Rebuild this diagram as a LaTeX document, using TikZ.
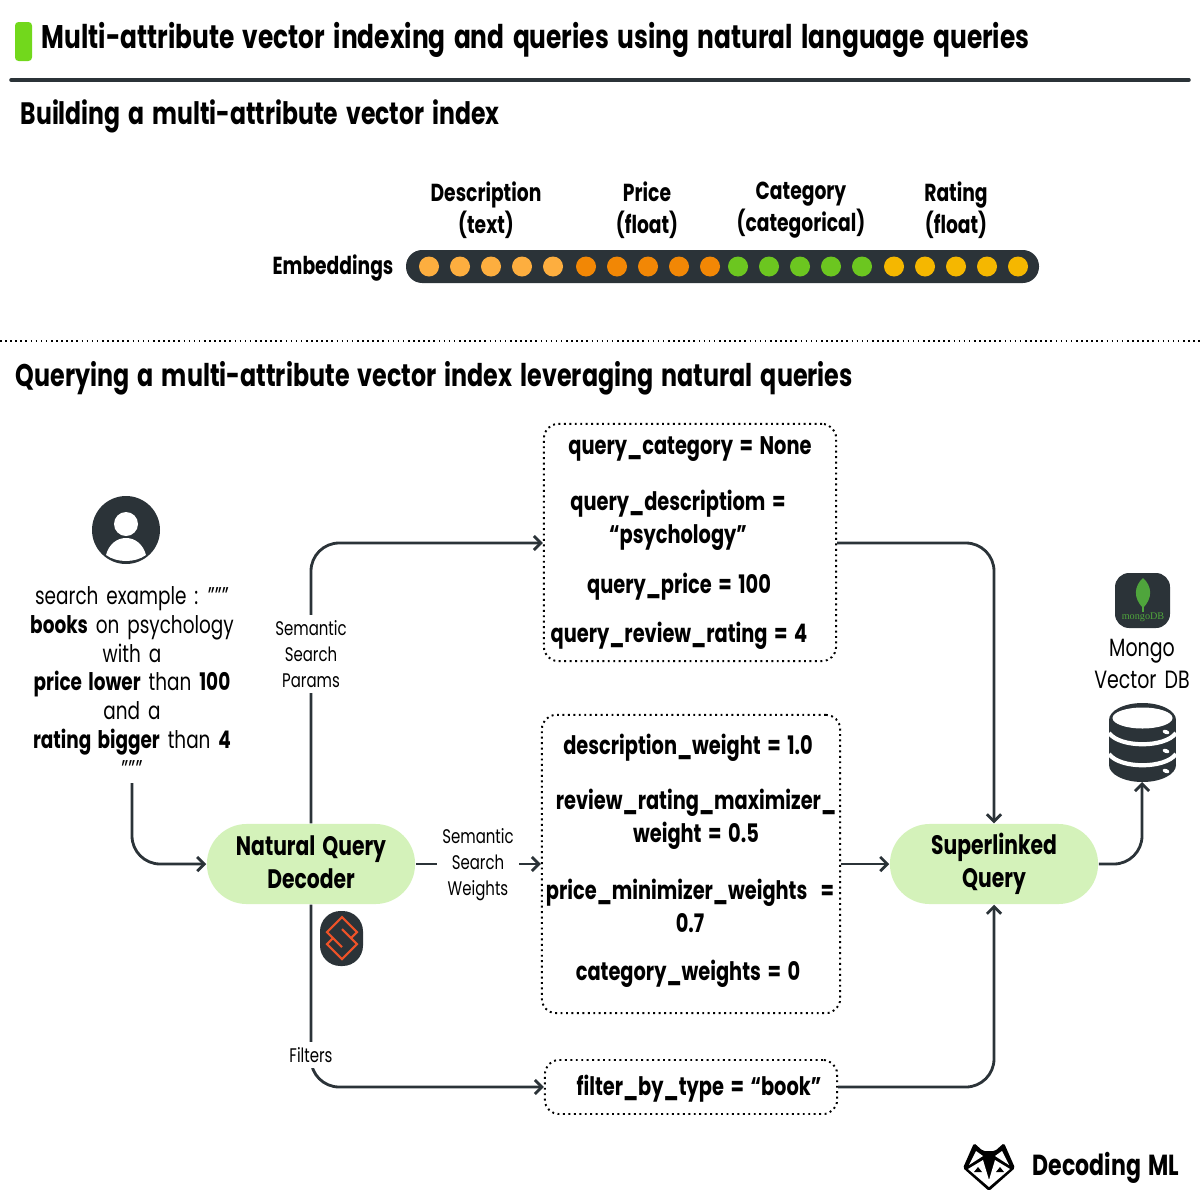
\documentclass[tikz,border=0pt]{standalone}
\usepackage{fontspec}
\setmainfont[FakeStretch=0.76, WordSpace=1.6]{Poppins}
\usepackage{tikz}
\usetikzlibrary{arrows.meta, positioning, shapes.geometric}

\definecolor{inkdark}{HTML}{2B3338}
\definecolor{pillgreen}{HTML}{D4F2BA}
\definecolor{barcolor}{HTML}{72D81C}
\definecolor{dotA}{HTML}{FDAE3F}
\definecolor{dotB}{HTML}{F28705}
\definecolor{dotC}{HTML}{6CC620}
\definecolor{dotD}{HTML}{F5B700}
\definecolor{superorange}{HTML}{EE5228}
\definecolor{leafgreen}{HTML}{4FA53C}

\tikzset{
  pill/.style={draw=none, fill=pillgreen, rounded corners=11.3pt, minimum width=2.08cm, minimum height=0.8cm, inner sep=0pt, font=\fontsize{7.6}{9.4}\selectfont\bfseries, align=center},
  paramsbox/.style={draw=black, densely dotted, line width=0.55pt, rounded corners=4pt, inner sep=0pt},
  param/.style={font=\fontsize{7.25}{9.3}\selectfont\bfseries, inner sep=0pt, align=center, yshift=-0.9pt},
  attr/.style={param, font=\fontsize{7}{9.3}\selectfont\bfseries},
  smalllabel/.style={font=\fontsize{5.6}{7.4}\selectfont, fill=white, inner sep=1.5pt, align=center},
  heading/.style={font=\fontsize{8.8}{10}\selectfont\bfseries, inner sep=0pt, anchor=west, yshift=-0.9pt},
  flow/.style={draw=inkdark, line width=0.8pt, rounded corners=8pt, -{Straight Barb[length=2pt,width=4pt]}}
}

\begin{document}
\begin{tikzpicture}[x=0.01cm, y=-0.01cm]
  \useasboundingbox (0,0) rectangle (1200,1200);
  % title and headings
  \fill[barcolor, rounded corners=1pt] (15,22) rectangle (32,61);
  \node[heading, font=\fontsize{9.3}{11}\selectfont\bfseries] (title) at (41,37) {Multi-attribute vector indexing and queries using natural language queries};
  \draw[inkdark, line width=1pt, line cap=round] (11,80) -- (1189,80);
  \node[heading] (buildhead) at (20,113) {Building a multi-attribute vector index};
  \draw[black, densely dotted, line width=0.45pt] (0,341) -- (1200,341);
  \node[heading, font=\fontsize{8.9}{10}\selectfont\bfseries] (queryhead) at (15,375) {Querying a multi-attribute vector index leveraging natural queries};
  % embedding bar
  \fill[inkdark, rounded corners=4.6pt] (406,250) rectangle (1039,283);
  \foreach \x/\c in {429/dotA, 460/dotA, 491/dotA, 522/dotA, 553/dotA, 586/dotB, 617/dotB, 648/dotB, 679/dotB, 710/dotB, 738/dotC, 769/dotC, 800/dotC, 831/dotC, 862/dotC, 894/dotD, 925/dotD, 956/dotD, 987/dotD, 1018/dotD}
    \fill[\c] (\x,266.5) circle (10);
  \node[attr] (embed) at (333,265) {Embeddings};
  \node[attr] (descattr) at (486,207) {Description\\(text)};
  \node[attr] (priceattr) at (647,207) {Price\\(float)};
  \node[attr] (catattr) at (801,207) {Category\\(categorical)};
  \node[attr] (rateattr) at (956,207) {Rating\\(float)};
  % user and search text
  \fill[inkdark] (126,530) circle (34);
  \fill[white] (126,524) circle (12);
  \fill[white] (106,555) .. controls (109,544) and (117,538) .. (126,538) .. controls (135,538) and (143,544) .. (146,555) .. controls (135,563) and (117,563) .. (106,555) -- cycle;
  \node[font=\fontsize{6.9}{8.2}\selectfont, inner sep=0pt, align=center] (search) at (132,682) {search example : """\\\textbf{books} on psychology\\with a\\\textbf{price lower} than \textbf{100}\\and a\\\textbf{rating bigger} than \textbf{4}\\"""};
  \coordinate (searchout) at (132,783);
  % main nodes
  \node[pill] (decoder) at (311,864) {};
  \node[pill, fill=none, minimum height=0pt, minimum width=0pt] (decodertext) at (311,862) {Natural Query\\Decoder};
  \node[pill] (superq) at (994,864) {Superlinked\\Query};
  \node[paramsbox, minimum width=2.92cm, minimum height=2.37cm] (searchbox) at (690,542.5) {};
  \node[paramsbox, minimum width=2.98cm, minimum height=2.98cm] (weightbox) at (691,864) {};
  \node[paramsbox, minimum width=2.92cm, minimum height=0.54cm] (filterbox) at (691,1087) {};
  % params
  \node[param] (p1) at (690,446) {query\_category = None};
  \node[param] (p2) at (678,517) {query\_descriptiom =\\“psychology”};
  \node[param] (p3) at (679,584) {query\_price = 100};
  \node[param] (p4) at (679,633) {query\_review\_rating = 4};
  \node[param] (w1) at (688,745) {description\_weight = 1.0};
  \node[param] (w2) at (696,816) {review\_rating\_maximizer\_\\weight = 0.5};
  \node[param] (w3) at (690,903) {price\_minimizer\_weights ~=\\0.7};
  \node[param] (w4) at (688,971) {category\_weights = 0};
  \node[param] (f1) at (699,1085) {filter\_by\_type = “book”};
  % connectors
  \coordinate (searchin) at (searchbox.west |- 0,543);
  \coordinate (paramcorner) at (311,543);
  \coordinate (outcorner) at (994,543);
  \coordinate (filtercorner) at (311,1087);
  \coordinate (filtercorner2) at (994,1087);
  \coordinate (dbin) at (1142,782);
  \draw[flow] (searchout) |- (decoder.west);
  \draw[flow] (decoder.north) -- (paramcorner) -- (searchin);
  \draw[flow] (decoder.south) -- (filtercorner) -- (filterbox.west);
  \draw[flow] (decoder.east) -- (weightbox.west);
  \draw[flow] (searchbox.east |- 0,543) -- (outcorner) -- (superq.north);
  \draw[flow] (weightbox.east) -- (superq.west);
  \draw[flow] (filterbox.east) -- (filtercorner2) -- (superq.south);
  \draw[flow] (superq.east) -| (dbin);
  \node[smalllabel] (paramslabel) at (311,654) {Semantic\\Search\\Params};
  \node[smalllabel] (weightslabel) at (478,865) {Semantic\\Search\\Weights};
  \node[smalllabel] (filterslabel) at (311,1055) {Filters};
  % superlinked icon
  \fill[inkdark, rounded corners=5.8pt] (320,911) rectangle (363,966);
  \draw[superorange, line width=0.6pt] (351,938) -- (357,932) -- (342,917) -- (327,932) -- (342,947);
  \draw[superorange, line width=0.6pt] (333,938) -- (327,944) -- (342,959) -- (357,944) -- (342,929);
  % mongo
  \fill[inkdark, rounded corners=4pt] (1115,573) rectangle (1170,628);
  \fill[leafgreen] (1143,578) .. controls (1134,586) and (1133,598) .. (1143,608) .. controls (1153,598) and (1152,586) .. (1143,578) -- cycle;
  \draw[leafgreen, line width=0.3pt] (1143,605) -- (1143,612);
  \node[inner sep=0pt, text=leafgreen, font=\fontsize{2.9}{3}\fontspec{Liberation Serif}] (mongotext) at (1143,617) {mongoDB};
  \node[font=\fontsize{7.1}{9.2}\selectfont, inner sep=0pt, align=center] (mongolabel) at (1142,664) {Mongo\\Vector DB};
  % database stack
  \fill[inkdark] (1142.5,720) ellipse (33.5 and 17);
  \fill[inkdark] (1142.5,765) ellipse (33.5 and 17);
  \fill[inkdark] (1109,720) rectangle (1176,765);
  \fill[white] (1142.5,718) ellipse (30 and 10.5);
  \draw[white, line width=1.2pt] (1109,733) .. controls (1120,748) and (1165,748) .. (1176,733);
  \draw[white, line width=1.2pt] (1109,754) .. controls (1120,769) and (1165,769) .. (1176,754);
  \foreach \y in {732, 751, 771}
    \fill[white, rotate around={-20:(1166,\y)}] (1166,\y) ellipse (3.5 and 2);
  % footer
  \node[font=\fontsize{8.25}{10}\selectfont\bfseries, inner sep=0pt, anchor=west, yshift=-0.9pt] (brand) at (1032,1165) {Decoding ML};
  \fill[black, rounded corners=0.5pt] (974,1143) -- (983,1151) -- (995,1151) -- (1004,1143) -- (1015,1168) -- (989,1191) -- (963,1168) -- cycle;
  \fill[white] (976,1151) -- (969,1165) -- (983,1156) -- cycle;
  \fill[white] (1002,1151) -- (1009,1165) -- (995,1156) -- cycle;
  \fill[white] (968,1169) -- (983,1160) -- (989,1180) -- (995,1160) -- (1010,1169) -- (989,1187) -- cycle;
  \fill[black] (974,1172) -- (978,1167) -- (982,1172) -- cycle;
  \fill[black] (996,1172) -- (1000,1167) -- (1004,1172) -- cycle;
\end{tikzpicture}
\end{document}
